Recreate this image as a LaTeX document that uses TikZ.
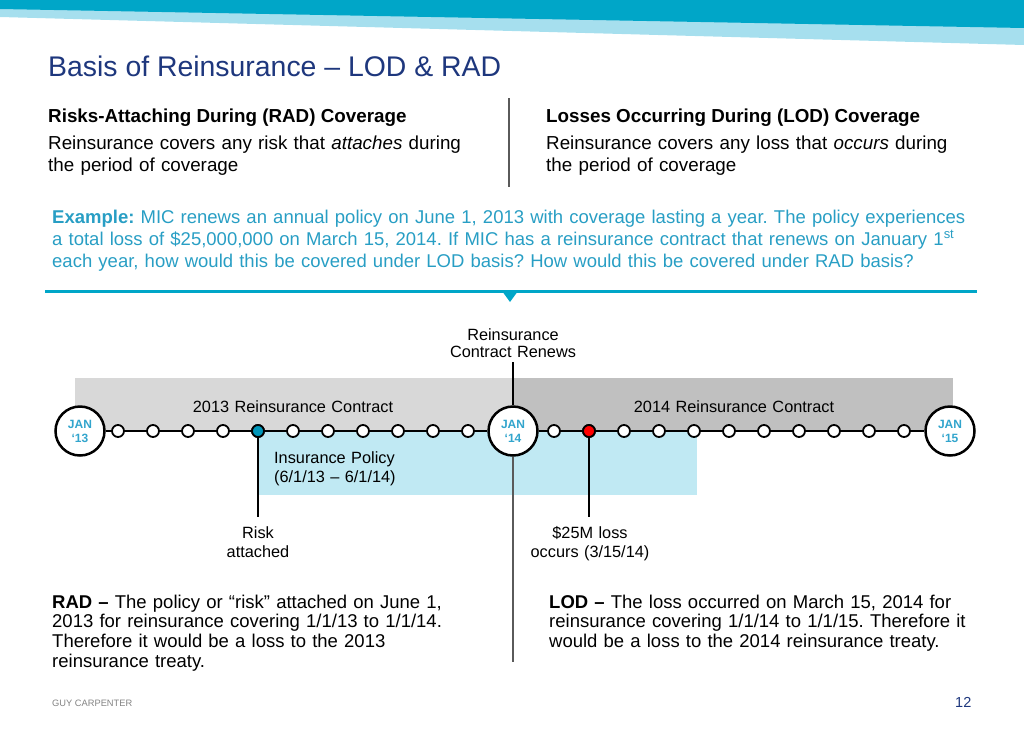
\documentclass[tikz,border=0pt]{standalone}
\usepackage{fontspec}
\setmainfont{Liberation Sans}
\frenchspacing
\definecolor{navy}{RGB}{30,55,125}
\definecolor{bannerteal}{RGB}{0,166,200}
\definecolor{lightband}{RGB}{166,223,238}
\definecolor{tealtext}{RGB}{40,158,196}
\definecolor{jantext}{RGB}{50,165,205}
\definecolor{greyL}{RGB}{216,216,216}
\definecolor{greyD}{RGB}{192,192,192}
\definecolor{policy}{RGB}{192,233,243}
\definecolor{dotteal}{RGB}{0,150,185}
\definecolor{divider}{RGB}{90,90,90}
\definecolor{footgrey}{RGB}{130,130,130}
\begin{document}
\begin{tikzpicture}[x=1pt,y=-1pt,
  txt/.style={inner sep=0pt, anchor=base west},
  body/.style={txt, font=\fontsize{18.8}{22}\selectfont, text width=480pt, align=left},
  tl/.style={inner sep=0pt, font=\fontsize{16.3}{19}\selectfont, text width=280pt, align=center},
  bigdot/.style={circle, draw, line width=2.5pt, fill=white, minimum size=49pt, inner sep=0pt,
     font=\bfseries\fontsize{12}{14}\selectfont, text=jantext, align=center},
  smalldot/.style={circle, draw, line width=1.8pt, fill=white, minimum size=12pt, inner sep=0pt},
  bottomtxt/.style={txt, font=\fontsize{18.5}{19.8}\selectfont, text width=470pt, align=left}
]
\useasboundingbox (0,0) rectangle (1024,731);
% banner
\fill[lightband] (0,0) -- (1024,0) -- (1024,45) -- (0,17) -- cycle;
\fill[bannerteal] (0,0) -- (1024,0) -- (1024,28) -- (0,9) -- cycle;
% title
\node[txt, font=\fontsize{28.4}{32}\selectfont, text=navy] (title) at (48,76) {Basis of Reinsurance – LOD \& RAD};
% headers
\node[txt, font=\bfseries\fontsize{18.8}{22}\selectfont] (radh) at (48,122) {Risks-Attaching During (RAD) Coverage};
\node[body] (radb) at (48,149) {Reinsurance covers any risk that \textit{attaches} during\\the period of coverage};
\node[txt, font=\bfseries\fontsize{18.8}{22}\selectfont] (lodh) at (546,122) {Losses Occurring During (LOD) Coverage};
\node[body] (lodb) at (546,149) {Reinsurance covers any loss that \textit{occurs} during\\the period of coverage};
\coordinate (dvt) at (509,98);
\coordinate (dvb) at (509,187);
\draw[divider, line width=1.2pt] (dvt) -- (dvb);
% example
\node[body, font=\fontsize{18.5}{22}\selectfont, text width=970pt, text=tealtext] (ex) at (52,223) {\textbf{Example:} MIC renews an annual policy on June 1, 2013 with coverage lasting a year. The policy experiences\\a total loss of \$25,000,000 on March 15, 2014. If MIC has a reinsurance contract that renews on January 1\textsuperscript{st}\\each year, how would this be covered under LOD basis? How would this be covered under RAD basis?};
\coordinate (hl) at (45,291);
\coordinate (hr) at (977,291);
\draw[bannerteal, line width=3pt] (hl) -- (hr);
\fill[bannerteal] (502,291) -- (518,291) -- (510,302) -- cycle;
% backgrounds
\fill[greyL] (75,378) rectangle (513,431);
\fill[greyD] (513,378) rectangle (953,431);
\fill[policy] (258,431) rectangle (697,495);
% labels on backgrounds
\node[tl, anchor=base] (c13) at (293,412) {2013 Reinsurance Contract};
\node[tl, anchor=base] (c14) at (734,412) {2014 Reinsurance Contract};
\node[tl, anchor=base west, align=left] (pol) at (274,463) {Insurance Policy\\(6/1/13 – 6/1/14)};
% big circles
\node[bigdot] (j13) at (80,431) {JAN\\‘13};
\node[bigdot] (j14) at (513,431) {JAN\\‘14};
\node[bigdot] (j15) at (950,431) {JAN\\‘15};
\draw[line width=2.5pt] (j13.east) -- (j14.west);
\draw[line width=2.5pt] (j14.east) -- (j15.west);
% small dots
\foreach \k in {1,...,11} {
  \node[smalldot] (a\k) at ({83+35*\k},431) {};
  \node[smalldot] (b\k) at ({519+35*\k},431) {};
}
\node[smalldot, fill=dotteal] (risk) at (258,431) {};
\node[smalldot, fill=red] (loss) at (589,431) {};
% risk label
\coordinate (riskend) at (258,517);
\draw[line width=1.2pt] (risk.south) -- (riskend);
\node[tl, anchor=base] (risklbl) at (258,538) {Risk\\attached};
% loss label
\coordinate (lossend) at (589,517);
\draw[line width=1.2pt] (loss.south) -- (lossend);
\node[tl, anchor=base] (losslbl) at (590,538) {\$25M loss\\occurs (3/15/14)};
% renews
\node[tl, anchor=base, font=\fontsize{16.3}{17.5}\selectfont] (renew) at (513,340) {Reinsurance\\Contract Renews};
\coordinate (renewtop) at (513,362);
\draw[line width=1.2pt] (renewtop) -- (j14.north);
\coordinate (renewend) at (513,662);
\draw[divider, line width=1.2pt] (j14.south) -- (renewend);
% bottom texts
\node[bottomtxt] (radt) at (52,608) {\textbf{RAD –} The policy or “risk” attached on June 1,\\2013 for reinsurance covering 1/1/13 to 1/1/14.\\Therefore it would be a loss to the 2013\\reinsurance treaty.};
\node[bottomtxt] (lodt) at (549,608) {\textbf{LOD –} The loss occurred on March 15, 2014 for\\reinsurance covering 1/1/14 to 1/1/15. Therefore it\\would be a loss to the 2014 reinsurance treaty.};
% footer
\node[txt, font=\fontsize{9.3}{11}\selectfont, text=footgrey] (foot) at (52,706) {GUY CARPENTER};
\node[txt, font=\fontsize{14.5}{16}\selectfont, text=navy] (pg) at (955,707) {12};
\end{tikzpicture}
\end{document}
